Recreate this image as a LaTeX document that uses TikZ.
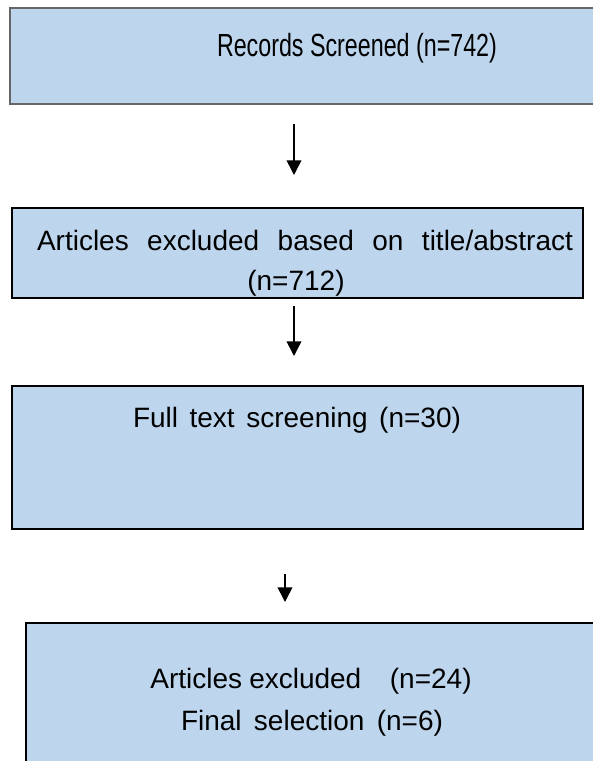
\documentclass[tikz,border=0pt]{standalone}
\usepackage{fontspec}
\setmainfont{Liberation Sans}
\usetikzlibrary{arrows.meta}
\definecolor{boxblue}{RGB}{189,214,238}
\tikzset{
  box/.style={draw=black, line width=1.4pt, fill=boxblue, anchor=north west, inner sep=0pt},
  txt/.style={font=\fontsize{21}{25}\selectfont, inner sep=0pt},
  flow/.style={line width=1.2pt, -{Triangle[width=11pt,length=11pt]}}
}

\begin{document}
\begin{tikzpicture}[x=0.75pt, y=-0.75pt]
  \useasboundingbox (0,0) rectangle (593,761);
  \clip (0,0) rectangle (593,761);

  % boxes
  \node[box, draw=black!60, minimum width=443.25pt, minimum height=72pt] (screened) at (9,7) {};
  \node[box, minimum width=428.25pt, minimum height=67.5pt] (title) at (11,207) {};
  \node[box, minimum width=428.25pt, minimum height=107.25pt] (fulltext) at (11,385) {};
  \node[box, minimum width=431.25pt, minimum height=111pt] (final) at (25,622) {};

  % texts
  \node[txt, font=\fontsize{24}{28}\selectfont] (screenedtxt) at (357,48) {\scalebox{0.727}[1]{Records Screened (n=742)}};
  \node[txt] (titletxt) at (305,240) {\makebox[402pt][s]{Articles excluded based on title/abstract}};
  \node[txt] (titlen) at (296,283) {(n=712)};
  \node[txt] (fulltexttxt) at (297,420) {\makebox[246pt][s]{Full text screening (n=30)}};
  \node[txt] (excludedtxt) at (311,681) {\makebox[241pt][s]{Articles\ excluded \ \ \ (n=24)}};
  \node[txt] (finaltxt) at (312,723) {\makebox[196.5pt][s]{Final selection (n=6)}};

  % arrows
  \coordinate (top1) at (294,124);
  \coordinate (tip1) at (294,175);
  \coordinate (top2) at (294,306);
  \coordinate (tip2) at (294,356);
  \coordinate (top3) at (285,574);
  \coordinate (tip3) at (285,602);
  \foreach \i in {1,2,3} \draw[flow] (top\i) -- (tip\i);
\end{tikzpicture}
\end{document}
